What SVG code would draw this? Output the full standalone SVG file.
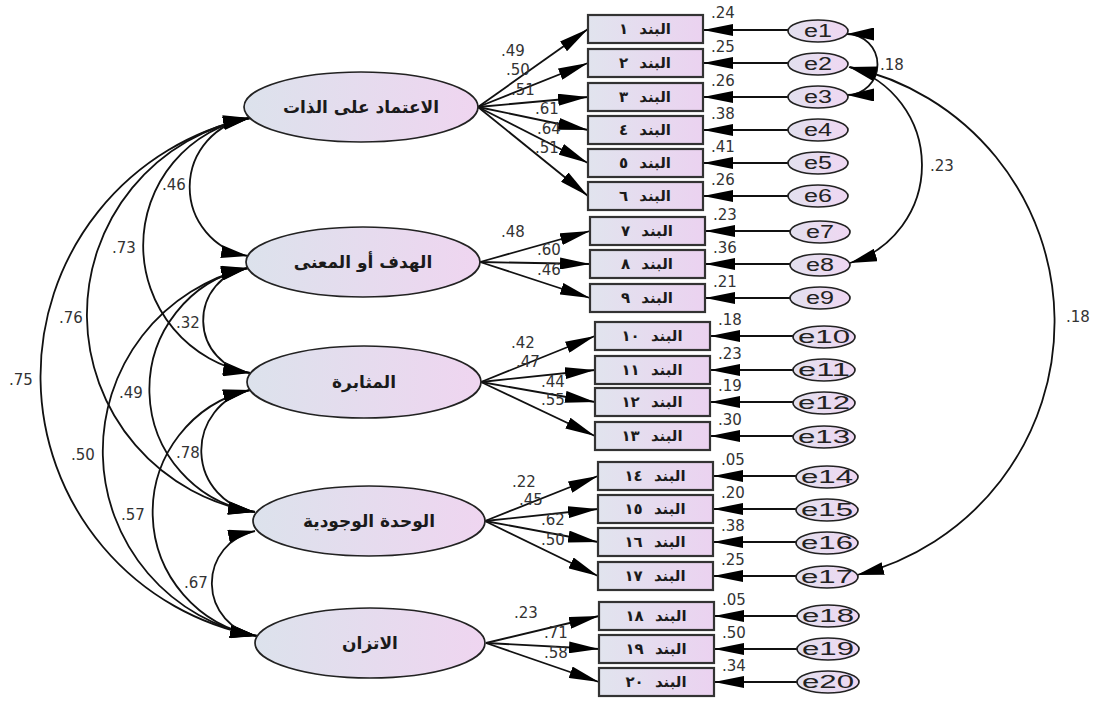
<svg xmlns="http://www.w3.org/2000/svg" width="1093" height="702" viewBox="0 0 1093 702">
<defs>
<linearGradient id="gLat" x1="0" x2="1" y1="0" y2="0"><stop offset="0" stop-color="#dce2ec"/><stop offset="1" stop-color="#efd5f0"/></linearGradient>
<linearGradient id="gBox" x1="0" x2="1" y1="0" y2="0"><stop offset="0" stop-color="#e1e4ee"/><stop offset="1" stop-color="#ebd2f0"/></linearGradient>
<linearGradient id="gErr" x1="0" x2="1" y1="0" y2="0"><stop offset="0" stop-color="#e2e0ee"/><stop offset="1" stop-color="#efd7f2"/></linearGradient>
<marker id="ah" viewBox="0 0 30 12" refX="30" refY="6" markerWidth="30" markerHeight="12" markerUnits="userSpaceOnUse" orient="auto-start-reverse"><path d="M0,0 L30,6 L0,12 z" fill="#000"/></marker>
<marker id="ah2" viewBox="0 0 27 13" refX="27" refY="6.5" markerWidth="27" markerHeight="13" markerUnits="userSpaceOnUse" orient="auto-start-reverse"><path d="M0,0 L27,6.5 L0,13 z" fill="#000"/></marker>
</defs>
<style>
.lat{fill:url(#gLat);stroke:#222;stroke-width:1.7}
.box{fill:url(#gBox);stroke:#333;stroke-width:2.2}
.err{fill:url(#gErr);stroke:#222;stroke-width:1.7}
.lt{font-family:"DejaVu Sans",sans-serif;font-weight:bold;font-size:17px;fill:#1a1a1a;text-anchor:middle}
.bt{font-family:"DejaVu Sans",sans-serif;font-weight:bold;font-size:15px;fill:#1a1a1a;text-anchor:middle;word-spacing:6px}
.et{font-family:"Liberation Sans",Arial,sans-serif;font-size:18px;fill:#222;text-anchor:middle}
.num{font-family:"DejaVu Sans",sans-serif;font-size:15px;fill:#333}
.ln{stroke:#111;stroke-width:1.8;fill:none;marker-end:url(#ah)}
.cov{stroke:#111;stroke-width:1.8;fill:none;marker-start:url(#ah2);marker-end:url(#ah2)}
</style>
<rect width="1093" height="702" fill="#fff"/>

<g id="connectors">
<line class="ln" x1="478" y1="107" x2="588" y2="29"/>
<line class="ln" x1="478" y1="107" x2="588" y2="63"/>
<line class="ln" x1="478" y1="107" x2="588" y2="97"/>
<line class="ln" x1="478" y1="107" x2="588" y2="130"/>
<line class="ln" x1="478" y1="107" x2="588" y2="163"/>
<line class="ln" x1="478" y1="107" x2="588" y2="196"/>
<line class="ln" x1="480" y1="262" x2="590" y2="231"/>
<line class="ln" x1="480" y1="262" x2="590" y2="264"/>
<line class="ln" x1="480" y1="262" x2="590" y2="298"/>
<line class="ln" x1="481" y1="382" x2="595" y2="336"/>
<line class="ln" x1="481" y1="382" x2="595" y2="370"/>
<line class="ln" x1="481" y1="382" x2="595" y2="402"/>
<line class="ln" x1="481" y1="382" x2="595" y2="436"/>
<line class="ln" x1="485" y1="521" x2="598" y2="476"/>
<line class="ln" x1="485" y1="521" x2="598" y2="509"/>
<line class="ln" x1="485" y1="521" x2="598" y2="542"/>
<line class="ln" x1="485" y1="521" x2="598" y2="576"/>
<line class="ln" x1="486" y1="643" x2="599" y2="616"/>
<line class="ln" x1="486" y1="643" x2="599" y2="649"/>
<line class="ln" x1="486" y1="643" x2="599" y2="682"/>
<line class="ln" x1="788" y1="30" x2="703" y2="30"/>
<line class="ln" x1="788" y1="63" x2="703" y2="63"/>
<line class="ln" x1="788" y1="97" x2="703" y2="97"/>
<line class="ln" x1="788" y1="130" x2="703" y2="130"/>
<line class="ln" x1="788" y1="163" x2="703" y2="163"/>
<line class="ln" x1="788" y1="196" x2="703" y2="196"/>
<line class="ln" x1="790" y1="231" x2="705" y2="231"/>
<line class="ln" x1="790" y1="264" x2="705" y2="264"/>
<line class="ln" x1="790" y1="298" x2="705" y2="298"/>
<line class="ln" x1="794" y1="336" x2="710" y2="336"/>
<line class="ln" x1="794" y1="370" x2="710" y2="370"/>
<line class="ln" x1="794" y1="402" x2="710" y2="402"/>
<line class="ln" x1="794" y1="436" x2="710" y2="436"/>
<line class="ln" x1="797" y1="476" x2="713" y2="476"/>
<line class="ln" x1="797" y1="509" x2="713" y2="509"/>
<line class="ln" x1="797" y1="542" x2="713" y2="542"/>
<line class="ln" x1="797" y1="576" x2="713" y2="576"/>
<line class="ln" x1="798" y1="616" x2="714" y2="616"/>
<line class="ln" x1="798" y1="649" x2="714" y2="649"/>
<line class="ln" x1="798" y1="682" x2="714" y2="682"/>
<path class="cov" d="M250,118 A69.8,69.8 0 0 0 248,256"/>
<path class="cov" d="M250,118 A129.5,129.5 0 0 0 250,373"/>
<path class="cov" d="M250,118 A200,200 0 0 0 255,512"/>
<path class="cov" d="M250,118 A264,264 0 0 0 257,636"/>
<path class="cov" d="M248,268 A53,53 0 0 0 250,373"/>
<path class="cov" d="M248,268 A124,124 0 0 0 255,512"/>
<path class="cov" d="M248,268 A188,188 0 0 0 257,636"/>
<path class="cov" d="M250,390 A62,62 0 0 0 255,512"/>
<path class="cov" d="M250,390 A125.5,125.5 0 0 0 257,636"/>
<path class="cov" d="M255,531 A53.3,53.3 0 0 0 257,636"/>
<path class="cov" d="M847,34 A30.5,30.5 0 0 1 847,95"/>
<path class="cov" d="M849,67 A102.5,102.5 0 0 1 850,263"/>
<path class="cov" d="M850,67 A261,261 0 0 1 857,575"/>
</g>

<g id="labels-covariance">
<text class="num" x="162" y="190">.46</text>
<text class="num" x="112" y="253">.73</text>
<text class="num" x="59" y="323">.76</text>
<text class="num" x="9" y="385">.75</text>
<text class="num" x="176" y="328">.32</text>
<text class="num" x="119" y="398">.49</text>
<text class="num" x="71" y="460">.50</text>
<text class="num" x="176" y="458">.78</text>
<text class="num" x="121" y="520">.57</text>
<text class="num" x="184" y="588">.67</text>
<text class="num" x="880" y="70">.18</text>
<text class="num" x="930" y="171">.23</text>
<text class="num" x="1066" y="322">.18</text>
</g>

<g id="labels-loadings">
<text class="num" x="501" y="56">.49</text>
<text class="num" x="506" y="75">.50</text>
<text class="num" x="511" y="95">.51</text>
<text class="num" x="535" y="114">.61</text>
<text class="num" x="537" y="134">.64</text>
<text class="num" x="535" y="153">.51</text>
<text class="num" x="501" y="237">.48</text>
<text class="num" x="537" y="255">.60</text>
<text class="num" x="537" y="275">.46</text>
<text class="num" x="511" y="348">.42</text>
<text class="num" x="516" y="367">.47</text>
<text class="num" x="541" y="387">.44</text>
<text class="num" x="541" y="405">.55</text>
<text class="num" x="512" y="487">.22</text>
<text class="num" x="519" y="505">.45</text>
<text class="num" x="541" y="525">.62</text>
<text class="num" x="541" y="545">.50</text>
<text class="num" x="514" y="618">.23</text>
<text class="num" x="544" y="638">.71</text>
<text class="num" x="544" y="658">.58</text>
</g>

<g id="labels-r2">
<text class="num" x="711" y="18">.24</text>
<text class="num" x="711" y="52">.25</text>
<text class="num" x="711" y="86">.26</text>
<text class="num" x="711" y="119">.38</text>
<text class="num" x="711" y="152">.41</text>
<text class="num" x="711" y="185">.26</text>
<text class="num" x="713" y="220">.23</text>
<text class="num" x="713" y="253">.36</text>
<text class="num" x="713" y="287">.21</text>
<text class="num" x="718" y="325">.18</text>
<text class="num" x="718" y="359">.23</text>
<text class="num" x="718" y="391">.19</text>
<text class="num" x="718" y="425">.30</text>
<text class="num" x="721" y="465">.05</text>
<text class="num" x="721" y="498">.20</text>
<text class="num" x="721" y="531">.38</text>
<text class="num" x="721" y="565">.25</text>
<text class="num" x="722" y="605">.05</text>
<text class="num" x="722" y="638">.50</text>
<text class="num" x="722" y="671">.34</text>
</g>

<g id="F1"><ellipse class="lat" cx="361" cy="107" rx="117" ry="35"/><text class="lt" x="361" y="113">الاعتماد على الذات</text></g>
<g id="F2"><ellipse class="lat" cx="363" cy="262" rx="117" ry="35"/><text class="lt" x="363" y="268">الهدف أو المعنى</text></g>
<g id="F3"><ellipse class="lat" cx="364" cy="382" rx="117" ry="36"/><text class="lt" x="364" y="388">المثابرة</text></g>
<g id="F4"><ellipse class="lat" cx="369" cy="521" rx="116" ry="35"/><text class="lt" x="369" y="527">الوحدة الوجودية</text></g>
<g id="F5"><ellipse class="lat" cx="370" cy="643" rx="115" ry="35"/><text class="lt" x="370" y="649">الاتزان</text></g>

<g id="item1"><rect class="box" x="588" y="15" width="115" height="28"/><text class="bt" x="645" y="34">البند ١</text></g>
<g id="item2"><rect class="box" x="588" y="49" width="115" height="28"/><text class="bt" x="645" y="68">البند ٢</text></g>
<g id="item3"><rect class="box" x="588" y="83" width="115" height="28"/><text class="bt" x="645" y="102">البند ٣</text></g>
<g id="item4"><rect class="box" x="588" y="116" width="115" height="28"/><text class="bt" x="645" y="135">البند ٤</text></g>
<g id="item5"><rect class="box" x="588" y="149" width="115" height="28"/><text class="bt" x="645" y="168">البند ٥</text></g>
<g id="item6"><rect class="box" x="588" y="182" width="115" height="28"/><text class="bt" x="645" y="201">البند ٦</text></g>
<g id="item7"><rect class="box" x="590" y="217" width="115" height="28"/><text class="bt" x="647" y="236">البند ٧</text></g>
<g id="item8"><rect class="box" x="590" y="250" width="115" height="28"/><text class="bt" x="647" y="269">البند ٨</text></g>
<g id="item9"><rect class="box" x="590" y="284" width="115" height="28"/><text class="bt" x="647" y="303">البند ٩</text></g>
<g id="item10"><rect class="box" x="595" y="322" width="115" height="28"/><text class="bt" x="652" y="341">البند ١٠</text></g>
<g id="item11"><rect class="box" x="595" y="356" width="115" height="28"/><text class="bt" x="652" y="375">البند ١١</text></g>
<g id="item12"><rect class="box" x="595" y="388" width="115" height="28"/><text class="bt" x="652" y="407">البند ١٢</text></g>
<g id="item13"><rect class="box" x="595" y="422" width="115" height="28"/><text class="bt" x="652" y="441">البند ١٣</text></g>
<g id="item14"><rect class="box" x="598" y="462" width="115" height="28"/><text class="bt" x="655" y="481">البند ١٤</text></g>
<g id="item15"><rect class="box" x="598" y="495" width="115" height="28"/><text class="bt" x="655" y="514">البند ١٥</text></g>
<g id="item16"><rect class="box" x="598" y="528" width="115" height="28"/><text class="bt" x="655" y="547">البند ١٦</text></g>
<g id="item17"><rect class="box" x="598" y="562" width="115" height="28"/><text class="bt" x="655" y="581">البند ١٧</text></g>
<g id="item18"><rect class="box" x="599" y="602" width="115" height="28"/><text class="bt" x="656" y="621">البند ١٨</text></g>
<g id="item19"><rect class="box" x="599" y="635" width="115" height="28"/><text class="bt" x="656" y="654">البند ١٩</text></g>
<g id="item20"><rect class="box" x="599" y="668" width="115" height="28"/><text class="bt" x="656" y="687">البند ٢٠</text></g>

<g id="e1"><ellipse class="err" cx="818" cy="31" rx="30" ry="11"/><text class="et" x="818" y="37" textLength="28" lengthAdjust="spacingAndGlyphs">e1</text></g>
<g id="e2"><ellipse class="err" cx="818" cy="64" rx="30" ry="11"/><text class="et" x="818" y="70" textLength="28" lengthAdjust="spacingAndGlyphs">e2</text></g>
<g id="e3"><ellipse class="err" cx="818" cy="97" rx="30" ry="11"/><text class="et" x="818" y="103" textLength="28" lengthAdjust="spacingAndGlyphs">e3</text></g>
<g id="e4"><ellipse class="err" cx="818" cy="130" rx="30" ry="11"/><text class="et" x="818" y="136" textLength="28" lengthAdjust="spacingAndGlyphs">e4</text></g>
<g id="e5"><ellipse class="err" cx="818" cy="163" rx="30" ry="11"/><text class="et" x="818" y="169" textLength="28" lengthAdjust="spacingAndGlyphs">e5</text></g>
<g id="e6"><ellipse class="err" cx="818" cy="196" rx="30" ry="11"/><text class="et" x="818" y="202" textLength="28" lengthAdjust="spacingAndGlyphs">e6</text></g>
<g id="e7"><ellipse class="err" cx="820" cy="232" rx="30" ry="11"/><text class="et" x="820" y="238" textLength="28" lengthAdjust="spacingAndGlyphs">e7</text></g>
<g id="e8"><ellipse class="err" cx="820" cy="265" rx="30" ry="11"/><text class="et" x="820" y="271" textLength="28" lengthAdjust="spacingAndGlyphs">e8</text></g>
<g id="e9"><ellipse class="err" cx="820" cy="298" rx="30" ry="11"/><text class="et" x="820" y="304" textLength="28" lengthAdjust="spacingAndGlyphs">e9</text></g>
<g id="e10"><ellipse class="err" cx="824" cy="337" rx="31" ry="11"/><text class="et" x="824" y="343" textLength="52" lengthAdjust="spacingAndGlyphs">e10</text></g>
<g id="e11"><ellipse class="err" cx="824" cy="370" rx="31" ry="11"/><text class="et" x="824" y="376" textLength="52" lengthAdjust="spacingAndGlyphs">e11</text></g>
<g id="e12"><ellipse class="err" cx="824" cy="403" rx="31" ry="11"/><text class="et" x="824" y="409" textLength="52" lengthAdjust="spacingAndGlyphs">e12</text></g>
<g id="e13"><ellipse class="err" cx="824" cy="437" rx="31" ry="11"/><text class="et" x="824" y="443" textLength="52" lengthAdjust="spacingAndGlyphs">e13</text></g>
<g id="e14"><ellipse class="err" cx="827" cy="477" rx="31" ry="11"/><text class="et" x="827" y="483" textLength="52" lengthAdjust="spacingAndGlyphs">e14</text></g>
<g id="e15"><ellipse class="err" cx="827" cy="510" rx="31" ry="11"/><text class="et" x="827" y="516" textLength="52" lengthAdjust="spacingAndGlyphs">e15</text></g>
<g id="e16"><ellipse class="err" cx="827" cy="543" rx="31" ry="11"/><text class="et" x="827" y="549" textLength="52" lengthAdjust="spacingAndGlyphs">e16</text></g>
<g id="e17"><ellipse class="err" cx="827" cy="577" rx="31" ry="11"/><text class="et" x="827" y="583" textLength="52" lengthAdjust="spacingAndGlyphs">e17</text></g>
<g id="e18"><ellipse class="err" cx="828" cy="616" rx="31" ry="11"/><text class="et" x="828" y="622" textLength="52" lengthAdjust="spacingAndGlyphs">e18</text></g>
<g id="e19"><ellipse class="err" cx="828" cy="649" rx="31" ry="11"/><text class="et" x="828" y="655" textLength="52" lengthAdjust="spacingAndGlyphs">e19</text></g>
<g id="e20"><ellipse class="err" cx="828" cy="682" rx="31" ry="11"/><text class="et" x="828" y="688" textLength="52" lengthAdjust="spacingAndGlyphs">e20</text></g>
</svg>
